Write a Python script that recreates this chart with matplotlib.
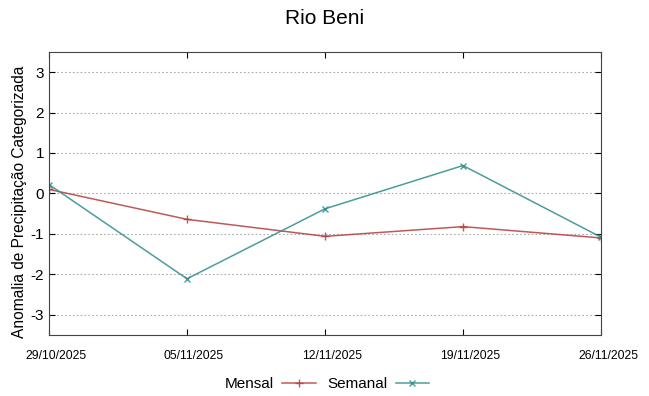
import matplotlib
matplotlib.use('Agg')
import matplotlib.pyplot as plt
import matplotlib.transforms as mtransforms

plt.rcParams['font.family'] = ['Liberation Sans', 'DejaVu Sans']
plt.rcParams['axes.unicode_minus'] = False

dates = ['29/10/2025', '05/11/2025', '12/11/2025', '19/11/2025', '26/11/2025']
mensal = [0.10, -0.64, -1.06, -0.82, -1.10]
semanal = [0.22, -2.11, -0.38, 0.69, -1.08]

fig = plt.figure(figsize=(6.49, 3.96), dpi=100)
ax = fig.add_axes([0.0755, 0.154, 0.8505, 0.715])

x = range(len(dates))
ax.plot(x, mensal, color='#b43c3c', lw=1.1, marker='+', ms=6, mew=1, label='Mensal', alpha=0.85)
ax.plot(x, semanal, color='#2e8b8b', lw=1.1, marker='x', ms=5, mew=1, label='Semanal', alpha=0.85)

ax.set_xlim(0, len(dates) - 1)
ax.set_ylim(-3.5, 3.5)
ax.set_xticks(list(x))
ax.set_xticklabels(dates, fontsize=8.7)
ax.set_yticks([-3, -2, -1, 0, 1, 2, 3])
ax.tick_params(axis='y', labelsize=11, direction='in', right=True, length=4)
ax.tick_params(axis='x', direction='in', top=True, length=4, pad=11)
ax.yaxis.grid(True, color='#aaaaaa', ls=(0, (1.5, 2)), lw=0.8)
for s in ax.spines.values():
    s.set_color('#444444')

# gnuplot puts the date labels a bit to the right of the ticks
shift = mtransforms.ScaledTranslation(7 / 100, 0, fig.dpi_scale_trans)
for lab in ax.get_xticklabels():
    lab.set_transform(lab.get_transform() + shift)

ax.set_ylabel('Anomalia de Precipitação Categorizada', fontsize=11.2)
ax.yaxis.set_label_coords(-0.04, 0.47)
ax.set_title('Rio Beni', fontsize=15, pad=20)

ax.legend(loc='upper center', bbox_to_anchor=(0.504, -0.1), ncol=2, frameon=False,
          markerfirst=False, fontsize=11, handlelength=2.2, columnspacing=0.8, handletextpad=0.5)

fig.savefig('out.png', dpi=100)
